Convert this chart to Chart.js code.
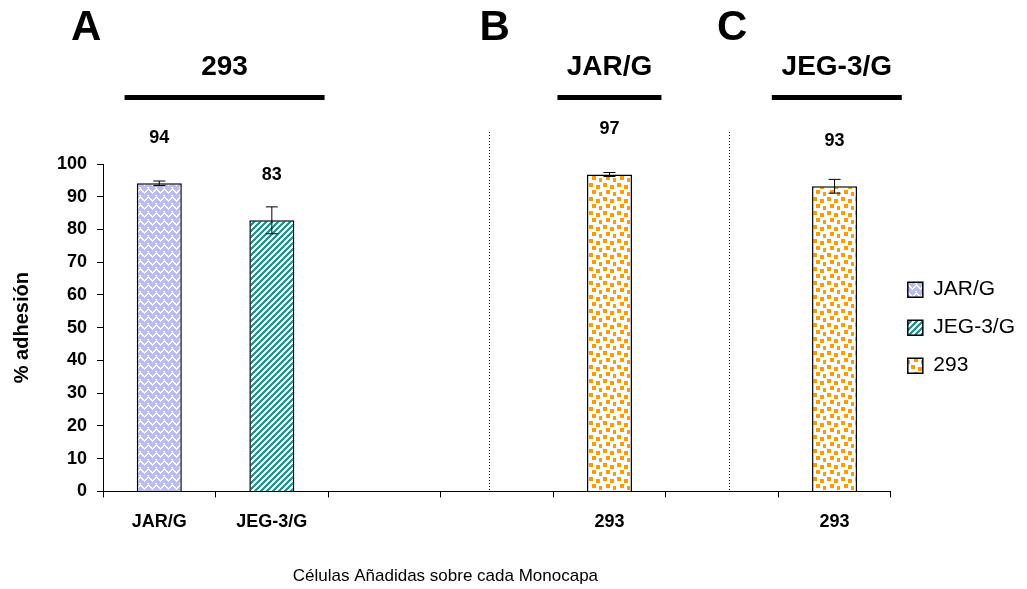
<!DOCTYPE html>
<html>
<head>
<meta charset="utf-8">
<script src="https://cdn.jsdelivr.net/npm/chart.js@4.4.1/dist/chart.umd.min.js"></script>
<style>
  html, body { margin: 0; padding: 0; background: #fff; }
  #wrap { width: 1027px; height: 589px; }
</style>
</head>
<body>
<div id="wrap"><canvas id="adhesion"></canvas></div>
<script>
// categories along the x axis (empty slots separate the panels)
const categories = ['JAR/G', 'JEG-3/G', '', '', '293', '', '293'];

// % adhesion and its error, per cell line added
const jarG = [94.1, null, null, null, null, null, null];
const jarGErr = [0.7, null, null, null, null, null, null];
const jeg3G = [null, 82.8, null, null, null, null, null];
const jeg3GErr = [null, 4.1, null, null, null, null, null];
const cells293 = [null, null, null, null, 96.8, null, 93.2];
const cells293Err = [null, null, null, null, 0.6, null, 2.1];

// panel headers: letter, monolayer name
const panelLetters = ['A', 'B', 'C'];
const panelTitles = ['293', 'JAR/G', 'JEG-3/G'];

const FONT = 'Arial, "Liberation Sans", sans-serif';

function makePattern(size, paint) {
  const c = document.createElement('canvas');
  c.width = size; c.height = size;
  const g = c.getContext('2d');
  g.fillStyle = '#fff';
  g.fillRect(0, 0, size, size);
  paint(g, size);
  return g.createPattern(c, 'repeat');
}

// lavender weave
const weave = makePattern(8, (g, n) => {
  g.fillStyle = '#bcbcf4';
  for (let px = 0; px < n; px++) {
    for (let py = 0; py < n; py++) {
      const white = px < 4 ? ((px + py) % 8) < 2 : ((py - px + 16) % 8) < 2;
      if (!white) g.fillRect(px, py, 1, 1);
    }
  }
  g.fillStyle = '#fff';
  g.fillRect(3, 3, 2, 1);
});

// teal diagonal stripes
const stripes = makePattern(6, (g, n) => {
  g.fillStyle = '#1f968c';
  for (let px = 0; px < n; px++) {
    for (let py = 0; py < n; py++) {
      if (((px + py) % 6) < 3) g.fillRect(px, py, 1, 1);
    }
  }
});

// orange confetti
const dots = makePattern(14, (g) => {
  g.fillStyle = '#ff9a00';
  [[1, 1], [8, 3], [4, 8], [11, 10]].forEach(([a, b]) => g.fillRect(a, b, 4, 4));
});

const series = [
  { values: jarG, err: jarGErr },
  { values: jeg3G, err: jeg3GErr },
  { values: cells293, err: cells293Err }
];

const annotate = {
  id: 'annotate',
  afterDraw(chart) {
    const { ctx, chartArea, scales: { x, y } } = chart;
    const step = x.getPixelForValue(1) - x.getPixelForValue(0);
    ctx.save();

    // dotted separators between panels
    ctx.strokeStyle = '#000';
    ctx.lineWidth = 1;
    ctx.setLineDash([1, 2]);
    [x.getPixelForValue(3) - step * 0.07, x.getPixelForValue(5) + step * 0.065].forEach(px => {
      px = Math.round(px) + 0.5;
      ctx.beginPath();
      ctx.moveTo(px, chartArea.top - 32);
      ctx.lineTo(px, chartArea.bottom);
      ctx.stroke();
    });
    ctx.setLineDash([]);

    // error bars and value labels
    ctx.font = 'bold 18px ' + FONT;
    ctx.fillStyle = '#000';
    ctx.textAlign = 'center';
    ctx.textBaseline = 'middle';
    series.forEach((s, di) => {
      const meta = chart.getDatasetMeta(di);
      s.values.forEach((v, i) => {
        if (v == null) return;
        const cx = meta.data[i].x;
        const hi = y.getPixelForValue(v + s.err[i]);
        const lo = y.getPixelForValue(v - s.err[i]);
        ctx.beginPath();
        ctx.moveTo(cx, hi); ctx.lineTo(cx, lo);
        ctx.moveTo(cx - 6, hi); ctx.lineTo(cx + 6, hi);
        ctx.moveTo(cx - 6, lo); ctx.lineTo(cx + 6, lo);
        ctx.stroke();
        ctx.fillText(Math.round(v), cx, y.getPixelForValue(v) - 45);
      });
    });

    // panel letters, titles and black bars
    const letterAt = [-0.65, 2.98, 5.09];
    const titleAt = [0.58, 4, 6.02];
    const barHalf = [100, 52, 65];
    panelLetters.forEach((letter, k) => {
      ctx.font = 'bold 42px ' + FONT;
      ctx.textBaseline = 'alphabetic';
      ctx.fillText(letter, x.getPixelForValue(letterAt[k]), 40);
      const tx = x.getPixelForValue(titleAt[k]);
      ctx.font = 'bold 28px ' + FONT;
      ctx.fillText(panelTitles[k], tx, 75);
      ctx.fillRect(tx - barHalf[k], 95, barHalf[k] * 2, 5);
    });

    // x axis title, centred on the plot + axis block
    ctx.font = '17px ' + FONT;
    ctx.textBaseline = 'middle';
    ctx.fillText('Células Añadidas sobre cada Monocapa', chart.legend.left / 2, 576);
    ctx.restore();
  }
};

new Chart(document.getElementById('adhesion'), {
  type: 'bar',
  data: {
    labels: categories,
    datasets: [
      { label: 'JAR/G', data: jarG, backgroundColor: weave },
      { label: 'JEG-3/G', data: jeg3G, backgroundColor: stripes },
      { label: '293', data: cells293, backgroundColor: dots }
    ].map(d => Object.assign(d, {
      borderColor: '#000',
      borderWidth: 1.5,
      barPercentage: 0.4,
      categoryPercentage: 1,
      grouped: false
    }))
  },
  options: {
    responsive: true,
    maintainAspectRatio: false,
    animation: false,
    layout: { padding: { top: 164, left: 10, right: 2, bottom: 42 } },
    scales: {
      x: {
        offset: true,
        grid: { offset: true, drawOnChartArea: false, tickLength: 6, color: '#000' },
        border: { color: '#000', width: 1 },
        ticks: { color: '#000', font: { family: FONT, size: 18, weight: 'bold' }, padding: 14, maxRotation: 0, autoSkip: false }
      },
      y: {
        min: 0,
        max: 100,
        ticks: { stepSize: 10, color: '#000', font: { family: FONT, size: 18, weight: 'bold' }, padding: 10 },
        grid: { drawOnChartArea: false, tickLength: 6, color: '#000' },
        border: { color: '#000', width: 1 },
        title: {
          display: true,
          text: '% adhesión',
          color: '#000',
          font: { family: FONT, size: 20, weight: 'bold' },
          padding: { top: 0, bottom: 13 }
        }
      }
    },
    plugins: {
      legend: {
        position: 'right',
        fullSize: false,
        labels: { color: '#000', font: { family: FONT, size: 21 }, boxWidth: 15, boxHeight: 15, padding: 17 }
      },
      tooltip: { enabled: false }
    }
  },
  plugins: [annotate]
});
</script>
</body>
</html>
